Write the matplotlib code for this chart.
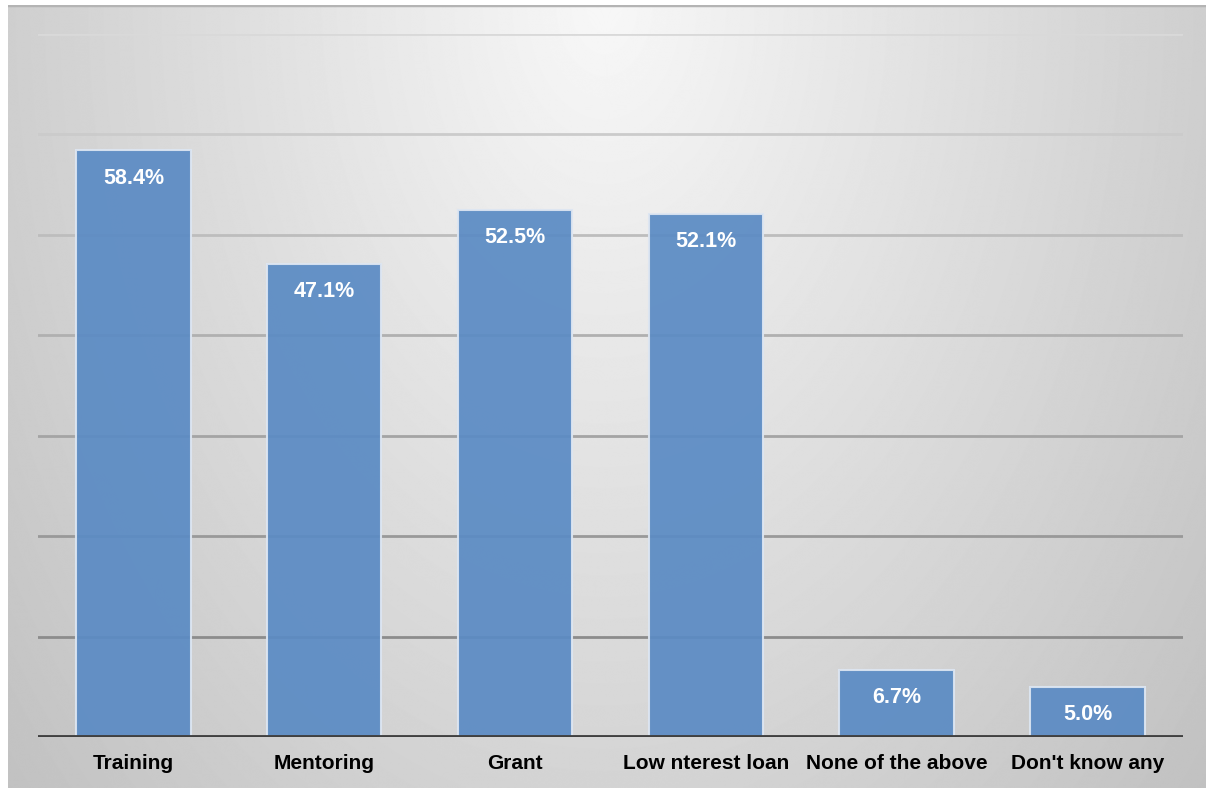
import matplotlib.pyplot as plt
import numpy as np

categories = ["Training", "Mentoring", "Grant", "Low nterest loan",
              "None of the above", "Don't know any"]
values = [58.4, 47.1, 52.5, 52.1, 6.7, 5.0]
labels = ["58.4%", "47.1%", "52.5%", "52.1%", "6.7%", "5.0%"]

W, H = 1206, 789
fig = plt.figure(figsize=(W / 100, H / 100), dpi=100)
plt.rcParams['font.family'] = ['Liberation Sans', 'DejaVu Sans']

# gradient background frame
bg = fig.add_axes([8 / W, 1 / H, (W - 8) / W, (H - 6) / H])
yy, xx = np.mgrid[0:H, 0:W]
d = np.sqrt(((xx - 600) / 640.0) ** 2 + ((yy - 0) / 950.0) ** 2)
g = np.clip(0.97 - 0.17 * d, 0.75, 1)
bg.imshow(g, cmap="gray", vmin=0, vmax=1, aspect="auto",
          extent=[0, 1, 0, 1], interpolation="bilinear")
bg.set_xticks([])
bg.set_yticks([])
for s in bg.spines.values():
    s.set_visible(False)
bg.axhline(1, color="#b4b4b4", lw=2.5)

ax = fig.add_axes([38 / W, (H - 737) / H, (1183 - 38) / W, (737 - 34) / H])
ax.patch.set_alpha(0)
ax.set_xlim(-0.5, len(categories) - 0.5)
ax.set_ylim(0, 70)

# gridlines get darker toward the bottom
levels = [10, 20, 30, 40, 50, 60, 70]
greys = ["#8c8c8c", "#999999", "#a4a4a4", "#b0b0b0", "#bdbdbd", "#cbcbcb", "#d9d9d9"]
for lv, c in zip(levels, greys):
    ax.axhline(lv, color=c, lw=2, zorder=1)

x = np.arange(len(categories))
ax.bar(x, values, width=0.6, color="#5b8bc4", alpha=0.93,
       edgecolor="#dde6f2", linewidth=1.5, zorder=2)

for xi, v, lab in zip(x, values, labels):
    ax.annotate(lab, (xi, v), xytext=(0, -20), textcoords="offset points",
                ha="center", va="center", color="white",
                fontsize=15.5, fontweight="bold", zorder=3)

ax.axhline(0, color="#404040", lw=3.5, zorder=4)
ax.set_xticks(x)
ax.set_xticklabels(categories, fontsize=15, fontweight="bold")
ax.tick_params(axis="x", length=0, pad=12)
ax.set_yticks([])
for s in ax.spines.values():
    s.set_visible(False)

fig.savefig("out.png", dpi=100)
